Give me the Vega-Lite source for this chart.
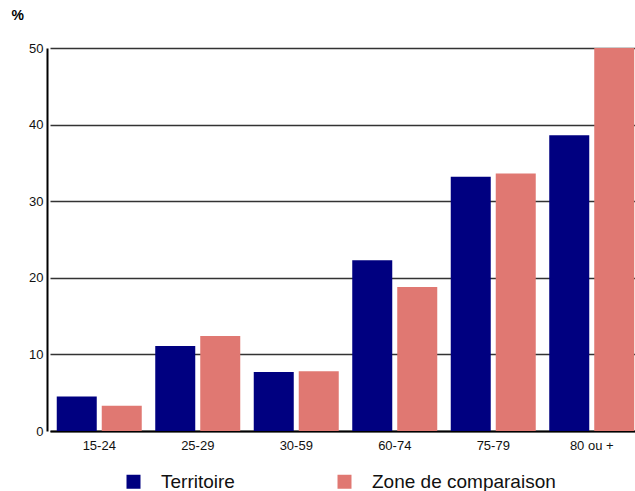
{
  "$schema": "https://vega.github.io/schema/vega-lite/v6.json",
  "width": 588,
  "height": 383,
  "autosize": {"type": "none"},
  "padding": {"left": 47, "top": 48, "right": 0, "bottom": 60},
  "background": "white",
  "config": {
    "view": {"stroke": null},
    "font": "Liberation Sans"
  },
  "data": {
    "values": [
      {"age": "15-24", "serie": "Territoire", "pct": 4.5},
      {"age": "15-24", "serie": "Zone de comparaison", "pct": 3.3},
      {"age": "25-29", "serie": "Territoire", "pct": 11.1},
      {"age": "25-29", "serie": "Zone de comparaison", "pct": 12.4},
      {"age": "30-59", "serie": "Territoire", "pct": 7.7},
      {"age": "30-59", "serie": "Zone de comparaison", "pct": 7.8},
      {"age": "60-74", "serie": "Territoire", "pct": 22.3},
      {"age": "60-74", "serie": "Zone de comparaison", "pct": 18.8},
      {"age": "75-79", "serie": "Territoire", "pct": 33.2},
      {"age": "75-79", "serie": "Zone de comparaison", "pct": 33.6},
      {"age": "80 ou +", "serie": "Territoire", "pct": 38.6},
      {"age": "80 ou +", "serie": "Zone de comparaison", "pct": 50}
    ]
  },
  "mark": {"type": "bar", "clip": false},
  "encoding": {
    "x": {
      "field": "age",
      "type": "nominal",
      "sort": null,
      "scale": {"range": [3, 594], "paddingInner": 0, "paddingOuter": 0},
      "axis": {
        "title": null,
        "labelAngle": 0,
        "ticks": false,
        "domainColor": "black",
        "domainWidth": 2,
        "labelFontSize": 13,
        "labelColor": "#111",
        "labelPadding": 8
      }
    },
    "xOffset": {
      "field": "serie",
      "type": "nominal",
      "scale": {"paddingInner": 0.111, "paddingOuter": 0.15}
    },
    "y": {
      "field": "pct",
      "type": "quantitative",
      "scale": {"domain": [0, 50], "nice": false},
      "axis": {
        "values": [0, 10, 20, 30, 40, 50],
        "title": "%",
        "titleAngle": 0,
        "titleAlign": "left",
        "titleBaseline": "middle",
        "titleX": -36,
        "titleY": -33,
        "titleFontSize": 14,
        "titleFontWeight": "bold",
        "titleColor": "black",
        "ticks": false,
        "domainColor": "black",
        "domainWidth": 2,
        "grid": true,
        "gridColor": "#333",
        "gridWidth": 1.5,
        "labelFontSize": 13,
        "labelColor": "#111",
        "labelPadding": 4
      }
    },
    "color": {
      "field": "serie",
      "type": "nominal",
      "scale": {
        "domain": ["Territoire", "Zone de comparaison"],
        "range": ["#000080", "#E07872"]
      },
      "legend": {
        "title": null,
        "orient": "none",
        "legendX": 77,
        "legendY": 424,
        "direction": "horizontal",
        "symbolType": "square",
        "symbolSize": 196,
        "symbolStrokeWidth": 0,
        "symbolOpacity": 1,
        "labelFontSize": 19,
        "labelColor": "#111",
        "labelOffset": 18,
        "columnPadding": 100,
        "labelLimit": 300
      }
    }
  }
}
